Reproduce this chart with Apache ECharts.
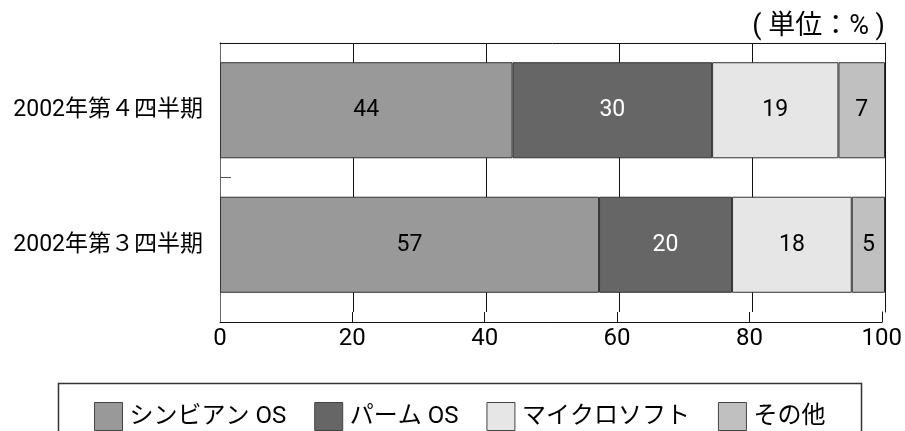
<!DOCTYPE html>
<html>
<head>
<meta charset="utf-8">
<script src="https://cdn.jsdelivr.net/npm/echarts@6/dist/echarts.min.js"></script>
<style>
    html, body { margin: 0; padding: 0; background: #fff; }
    #chart { width: 905px; height: 431px; }
</style>
</head>
<body>
<div id="chart"></div>
<script>
(function() {
    'use strict';

    // 区分（下から上の順）
    var categories = ['2002年第３四半期', '2002年第４四半期'];

    // 系列
    var seriesNames = ['シンビアン OS', 'パーム OS', 'マイクロソフト', 'その他'];
    var symbian = [57, 44];
    var palm = [20, 30];
    var microsoft = [18, 19];
    var others = [5, 7];

    var xTicks = [0, 20, 40, 60, 80, 100];

    var colors = ['#999999', '#666666', '#e6e6e6', '#c0c0c0'];
    var labelColors = ['#000', '#fff', '#000', '#000'];
    var values = [symbian, palm, microsoft, others];

    var FONT = 'Roboto, "Noto Sans CJK JP", sans-serif';

    var series = seriesNames.map(function(name, i) {
        return {
            name : name,
            type : 'bar',
            stack : 'share',
            xAxisIndex : 0,
            yAxisIndex : 0,
            barCategoryGap : '28.6%',
            data : values[i],
            itemStyle : {
                color : colors[i],
                borderColor : '#333',
                borderWidth : 1,
            },
            label : {
                show : true,
                position : 'inside',
                color : labelColors[i],
                fontFamily : FONT,
                fontSize : 23,
            },
        };
    });

    // x軸の共通設定
    var xBase = {
        type : 'value',
        min : xTicks[0],
        max : xTicks[xTicks.length - 1],
        interval : 20,
        axisTick : { show : false },
        splitLine : { show : true, lineStyle : { color : '#111', width : 1 } },
    };
    var lineOnly = function(grid, pos, color) {
        return {
            type : 'value',
            gridIndex : grid,
            position : pos,
            axisLine : { show : true, onZero : false, lineStyle : { color : color } },
            axisTick : { show : false },
            axisLabel : { show : false },
            splitLine : { show : false },
        };
    };

    // 区分の境目だけに目盛りを出す補助軸
    var divider = lineOnly(0, 'left', '#666');
    divider.min = 0;
    divider.max = 2;
    divider.interval = 1;
    divider.axisTick = { show : true, inside : true, length : 11, customValues : [1], lineStyle : { color : '#555' } };

    var myChart = echarts.init(document.getElementById('chart'));
    myChart.setOption({
        animation : false,
        textStyle : { fontFamily : FONT },
        title : {
            text : '( 単位：% )',
            right : 15,
            top : 9,
            textStyle : { fontSize : 27, fontWeight : 'normal', color : '#000', fontFamily : FONT },
        },
        // 上: 棒の領域 / 下: 目盛り側の余白帯
        grid : [
            { left : 220, right : 20, top : 43, bottom : 119 },
            { left : 220, right : 20, top : 312, bottom : 109 },
        ],
        xAxis : [
            $extend({}, xBase, {
                gridIndex : 0,
                position : 'top',
                axisLine : { show : true, onZero : false, lineStyle : { color : '#111' } },
                axisLabel : { show : false },
            }),
            $extend({}, xBase, {
                gridIndex : 1,
                position : 'bottom',
                axisLine : { show : true, onZero : false, lineStyle : { color : '#111' } },
                axisLabel : { color : '#000', fontSize : 24, margin : 5, fontFamily : FONT },
            }),
        ],
        yAxis : [
            {
                type : 'category',
                gridIndex : 0,
                data : categories,
                axisLine : { show : true, lineStyle : { color : '#666', width : 1 } },
                axisTick : { show : false },
                axisLabel : { color : '#000', fontSize : 23, margin : 17, fontFamily : FONT },
            },
            lineOnly(0, 'right', '#111'),
            lineOnly(1, 'left', '#666'),
            lineOnly(1, 'right', '#111'),
            divider,
        ],
        legend : {
            data : seriesNames,
            left : 89,
            top : 397,
            itemWidth : 28,
            itemHeight : 28,
            itemGap : 28,
            icon : 'rect',
            itemStyle : { borderColor : '#444', borderWidth : 1 },
            textStyle : { fontSize : 24, color : '#000', fontFamily : FONT, padding : [0, 0, 0, 2] },
        },
        graphic : [{
            type : 'rect',
            shape : { x : 58.5, y : 383.5, width : 803, height : 60 },
            style : { fill : 'none', stroke : '#333', lineWidth : 1.5 },
            z : 0,
        }],
        series : series,
    });

    function $extend(target) {
        for (var i = 1; i < arguments.length; i++) {
            var src = arguments[i];
            for (var k in src) {
                if (src.hasOwnProperty(k)) target[k] = src[k];
            }
        }
        return target;
    }
})();
</script>
</body>
</html>
